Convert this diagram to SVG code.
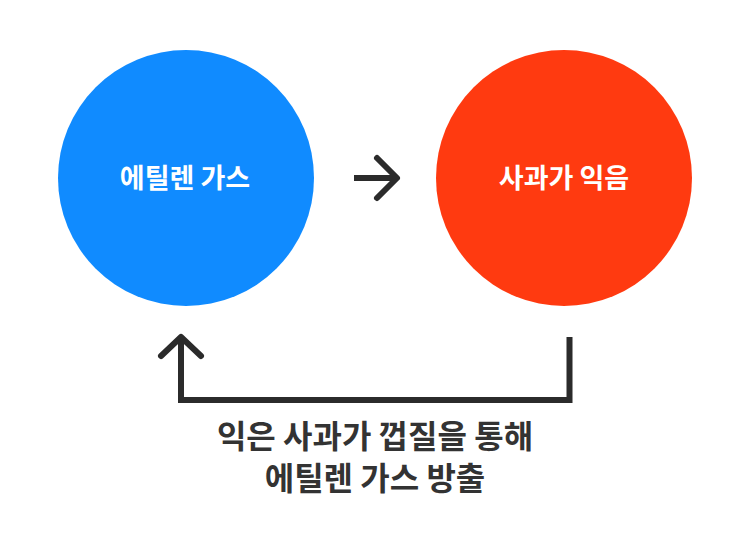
<svg xmlns="http://www.w3.org/2000/svg" width="750" height="550" viewBox="0 0 750 550">
<style>
.lbl{font-family:"Noto Sans CJK KR","Noto Sans",sans-serif;font-weight:700;text-anchor:middle}
.node{font-size:27px;fill:#ffffff}
.cap{font-size:32px;fill:#333333}
.con{fill:none;stroke:#2b2b2b;stroke-width:6}
</style>
<rect width="750" height="550" fill="#ffffff"/>
<g id="node-ethylene">
<circle cx="186" cy="178" r="128" fill="#108bff"/>
<text class="lbl node" x="185" y="188">에틸렌 가스</text>
</g>
<g id="node-ripening">
<circle cx="564" cy="178" r="128" fill="#ff3a10"/>
<text class="lbl node" x="564" y="188">사과가 익음</text>
</g>
<g id="connectors">
<path class="con" d="M354 178 H396"/>
<path class="con" d="M377 158 L397 178 L377 198" stroke-linecap="round" stroke-linejoin="round"/>
<path class="con" d="M569.5 337 V400 H181 V340"/>
<path class="con" d="M161 356 L181 337 L201 356" stroke-linecap="round" stroke-linejoin="round"/>
</g>
<g id="caption">
<text class="lbl cap" x="375" y="448">익은 사과가 껍질을 통해</text>
<text class="lbl cap" x="375" y="490">에틸렌 가스 방출</text>
</g>
</svg>
